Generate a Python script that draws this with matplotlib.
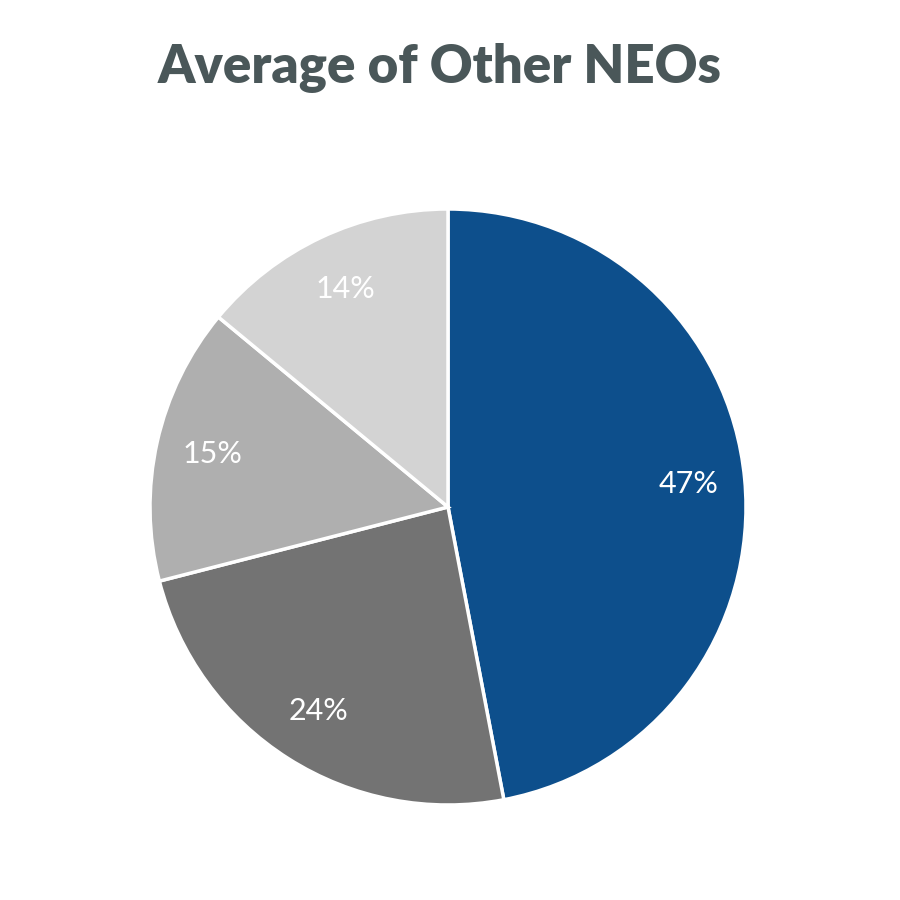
import matplotlib
matplotlib.use("Agg")
import matplotlib.pyplot as plt

plt.rcParams['font.family'] = ['Lato', 'DejaVu Sans']

# data
labels = ["Base Salary", "Annual Incentive", "Long-Term Equity", "Other"]
shares = [47, 24, 15, 14]
colors = ["#0d4f8c", "#737373", "#afafaf", "#d3d3d3"]

fig = plt.figure(figsize=(9, 9), dpi=100)
fig.patch.set_facecolor("white")

# pie centre ~ (448, 507) px, radius ~ 298 px
ax = fig.add_axes([150 / 900, 95 / 900, 596 / 900, 596 / 900])
wedges, texts, autotexts = ax.pie(
    shares,
    colors=colors,
    startangle=90,
    counterclock=False,
    autopct="%.0f%%",
    pctdistance=0.81,
    radius=1,
    wedgeprops=dict(edgecolor="white", linewidth=2.5),
    textprops=dict(color="white", fontsize=22),
)
ax.set_xlim(-1, 1)
ax.set_ylim(-1, 1)
ax.set_aspect("equal")
ax.axis("off")

fig.text(440 / 900, 1 - 68 / 900, "Average of Other NEOs",
         ha="center", va="center", fontsize=38, fontweight="heavy",
         color="#4a5759")

plt.savefig("out.png", dpi=100)
